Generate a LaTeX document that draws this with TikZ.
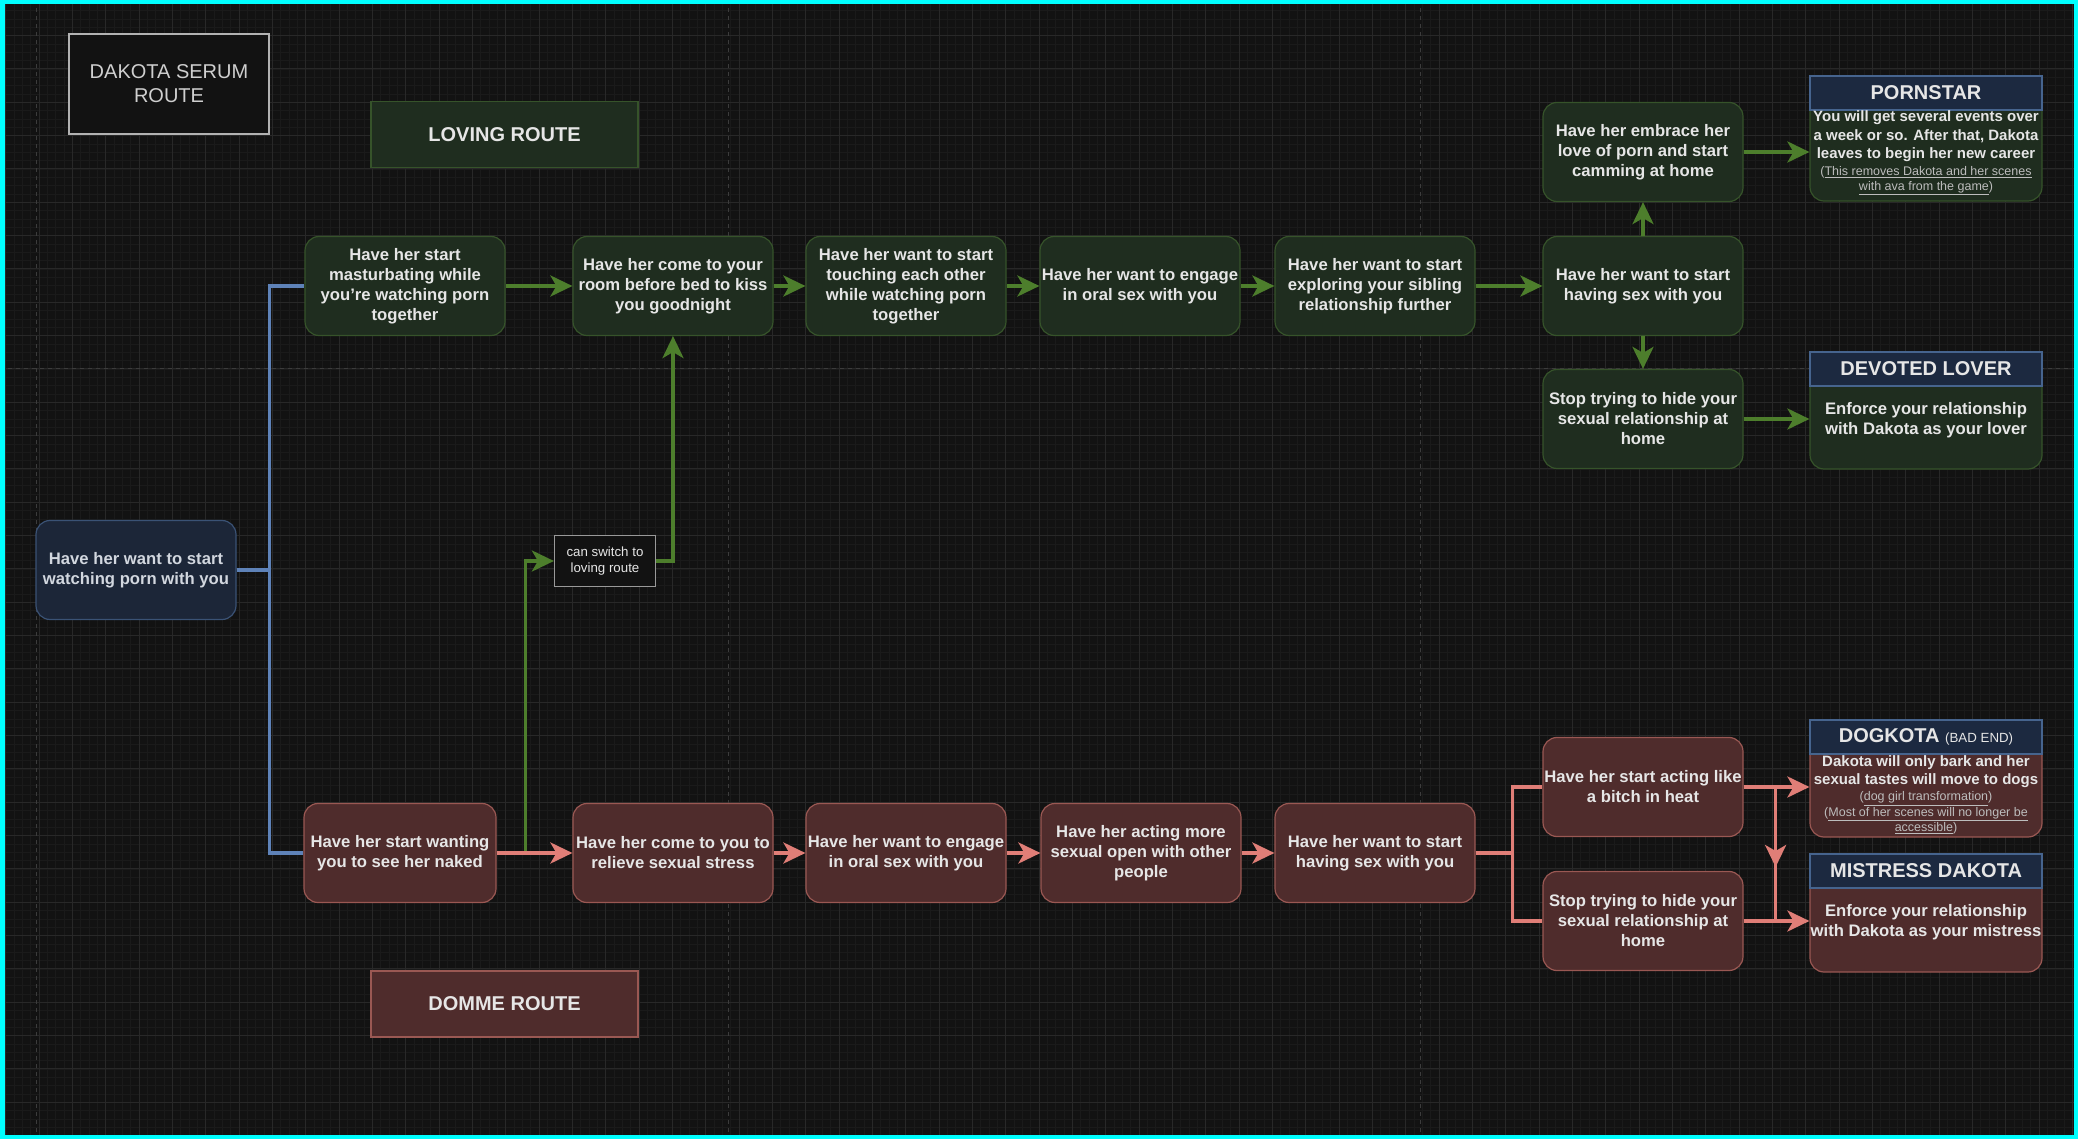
\documentclass[tikz,border=0pt]{standalone}
\usepackage{fontspec}
\setmainfont{Liberation Sans}
\usetikzlibrary{arrows.meta, calc}

\definecolor{bgcol}{HTML}{121212}
\definecolor{gridminor}{HTML}{1A1A1A}
\definecolor{gridmajor}{HTML}{282828}
\definecolor{pageline}{HTML}{3C3C3C}
\definecolor{framecyan}{HTML}{00FFFF}
\definecolor{lovefill}{HTML}{1F2D1F}
\definecolor{lovedraw}{HTML}{36532A}
\definecolor{lovegreen}{HTML}{4D7E2C}
\definecolor{dommefill}{HTML}{4F2C2C}
\definecolor{dommedraw}{HTML}{9A5853}
\definecolor{dommered}{HTML}{E07E77}
\definecolor{startfill}{HTML}{1C2638}
\definecolor{startdraw}{HTML}{3A5275}
\definecolor{startblue}{HTML}{5E82B8}
\definecolor{headfill}{HTML}{1C2940}
\definecolor{headdraw}{HTML}{46648E}
\definecolor{textcol}{HTML}{E6E6E6}
\definecolor{notecol}{HTML}{BDBDBD}

\newcommand{\boxfont}{\fontsize{16.67}{20}\selectfont\bfseries}
\newcommand{\bodyfont}{\fontsize{15}{18.5}\selectfont\bfseries}
\newcommand{\bigfont}{\fontsize{20}{24}\selectfont}
\newcommand{\notetext}[1]{{\fontsize{12.5}{15.5}\selectfont\mdseries\color{notecol}#1}}

\begin{document}
\begin{tikzpicture}[x=1pt, y=-1pt, line join=miter,
  box/.style={rounded corners=14pt, line width=1.2pt, minimum width=200pt,
    minimum height=99pt, align=center, font=\boxfont, text=textcol,
    inner xsep=0pt, inner ysep=2pt},
  lovebox/.style={box, draw=lovedraw, fill=lovefill},
  dommebox/.style={box, draw=dommedraw, fill=dommefill},
  startbox/.style={box, draw=startdraw, fill=startfill, text=textcol!85!startblue},
  endbody/.style={rounded corners=14pt, line width=1.2pt, minimum width=232pt},
  headbox/.style={draw=headdraw, fill=headfill, line width=1.2pt, minimum width=232pt,
    minimum height=34pt, font=\bigfont\bfseries, text=textcol},
  endtext/.style={align=center, text=textcol, inner sep=0pt},
  routebox/.style={line width=1.2pt, minimum width=267pt, minimum height=66pt,
    font=\bigfont\bfseries, text=textcol},
  loveline/.style={draw=lovegreen, line width=3.6pt},
  lovearrow/.style={loveline, -{Stealth[length=22pt, width=21pt, inset=6pt]}},
  dommeline/.style={draw=dommered, line width=3.6pt},
  dommearrow/.style={dommeline, -{Stealth[length=22pt, width=21pt, inset=6pt]}},
  startline/.style={draw=startblue, line width=3.6pt}]

  \useasboundingbox (0,0) rectangle (2078,1139);

  % canvas and grid
  \fill[bgcol] (0,0) rectangle (2078,1139);
  \foreach \i in {0,...,249}
    \draw[gridminor, line width=0.8pt] ({5.7+\i*8.333},0) -- ({5.7+\i*8.333},1139);
  \foreach \i in {0,...,136}
    \draw[gridminor, line width=0.8pt] (0,{2.3+\i*8.333}) -- (2078,{2.3+\i*8.333});
  \foreach \i in {0,...,62}
    \draw[gridmajor, line width=1pt] ({5.7+\i*33.333},0) -- ({5.7+\i*33.333},1139);
  \foreach \i in {0,...,34}
    \draw[gridmajor, line width=1pt] (0,{2.3+\i*33.333}) -- (2078,{2.3+\i*33.333});

  % page breaks
  \foreach \px in {36,728,1420}
    \draw[pageline, line width=1pt, dash pattern=on 4pt off 4pt] (\px,0) -- (\px,1139);
  \draw[pageline, line width=1pt, dash pattern=on 4pt off 4pt] (0,369) -- (2078,369);

  % labels
  \node[draw=black!30!white, fill=bgcol, line width=1.2pt, minimum width=200pt,
        minimum height=100pt, align=center, font=\bigfont, text=textcol!90!black]
    (title) at (169,84) {DAKOTA SERUM\\ROUTE};
  \node[routebox, draw=lovedraw, fill=lovefill] (loving) at (504.5,134.5) {LOVING ROUTE};
  \node[routebox, draw=dommedraw, fill=dommefill] (domme) at (504.5,1004) {DOMME ROUTE};

  % start
  \node[startbox] (start) at (136,570) {Have her want to start\\watching porn with you};

  % loving route
  \node[lovebox] (mast) at (405,286) {Have her start\\masturbating while\\you're watching porn\\together};
  \node[lovebox] (come) at (673,286) {Have her come to your\\room before bed to kiss\\you goodnight};
  \node[lovebox] (touch) at (906,286) {Have her want to start\\touching each other\\while watching porn\\together};
  \node[lovebox] (oral) at (1140,286) {Have her want to engage\\in oral sex with you};
  \node[lovebox] (explore) at (1375,286) {Have her want to start\\exploring your sibling\\relationship further};
  \node[lovebox] (lsex) at (1643,286) {Have her want to start\\having sex with you};
  \node[lovebox] (embrace) at (1643,152) {Have her embrace her\\love of porn and start\\camming at home};
  \node[lovebox] (lstop) at (1643,419) {Stop trying to hide your\\sexual relationship at\\home};

  % loving endings
  \node[endbody, draw=lovedraw, fill=lovefill, minimum height=108pt] (porn) at (1926,147) {};
  \node[headbox] (pornhead) at (1926,93) {PORNSTAR};
  \node[endtext, font=\bodyfont] (porntext) at (1926,153) {You will get several events over\\
    a week or so. After that, Dakota\\leaves to begin her new career\\[-1.5pt]
    \notetext{(\underline{This removes Dakota and her scenes}}\\[-3.5pt]
    \notetext{\underline{with ava from the game})}};
  \node[endbody, draw=lovedraw, fill=lovefill, minimum height=100pt] (devoted) at (1926,419) {};
  \node[headbox] (devotedhead) at (1926,369) {DEVOTED LOVER};
  \node[endtext, font=\boxfont] (devotedtext) at (1926,420) {Enforce your relationship\\with Dakota as your lover};

  % domme route
  \node[dommebox, minimum width=192pt] (wanting) at (400,853) {Have her start wanting\\you to see her naked};
  \node[dommebox] (dcome) at (673,853) {Have her come to you to\\relieve sexual stress};
  \node[dommebox] (doral) at (906,853) {Have her want to engage\\in oral sex with you};
  \node[dommebox] (acting) at (1141,853) {Have her acting more\\sexual open with other\\people};
  \node[dommebox] (dsex) at (1375,853) {Have her want to start\\having sex with you};
  \node[dommebox] (bitch) at (1643,787) {Have her start acting like\\a bitch in heat};
  \node[dommebox] (dstop) at (1643,921) {Stop trying to hide your\\sexual relationship at\\home};

  % domme endings
  \node[endbody, draw=dommedraw, fill=dommefill, minimum height=100pt] (dog) at (1926,787) {};
  \node[headbox] (doghead) at (1926,737) {DOGKOTA {\fontsize{13.3}{16}\selectfont\mdseries (BAD END)}};
  \node[endtext, font=\bodyfont] (dogtext) at (1926,795) {Dakota will only bark and her\\
    sexual tastes will move to dogs\\[-2.5pt]
    \notetext{(\underline{dog girl transformation})}\\[-3pt]
    \notetext{(\underline{Most of her scenes will no longer be}}\\[-3pt]
    \notetext{\underline{accessible})}};
  \node[endbody, draw=dommedraw, fill=dommefill, minimum height=101pt] (mistress) at (1926,921.5) {};
  \node[headbox] (mistresshead) at (1926,871) {MISTRESS DAKOTA};
  \node[endtext, font=\boxfont] (mistresstext) at (1926,922) {Enforce your relationship\\with Dakota as your mistress};

  % switch note
  \node[draw=black!40!white, fill=bgcol, line width=1.2pt, minimum width=101pt,
        minimum height=51pt, align=center, text=textcol, inner sep=0pt,
        font=\fontsize{13.3}{16}\selectfont] (switch) at (605,561) {can switch to\\loving route};

  % start split
  \draw[startline] (start.east) -- ++(33,0) |- (mast.west);
  \draw[startline] (start.east) -- ++(33,0) |- (wanting.west);

  % loving arrows
  \draw[lovearrow] (mast) -- (come);
  \draw[lovearrow] (come) -- (touch);
  \draw[lovearrow] (touch) -- (oral);
  \draw[lovearrow] (oral) -- (explore);
  \draw[lovearrow] (explore) -- (lsex);
  \draw[lovearrow] (lsex) -- (embrace);
  \draw[lovearrow] (lsex) -- (lstop);
  \draw[lovearrow] (embrace.east) -- (embrace.east -| porn.west);
  \draw[lovearrow] (lstop.east) -- (lstop.east -| devoted.west);

  % switching over
  \draw[lovearrow] (wanting.east) ++(29,0) |- (switch.west);
  \draw[lovearrow] (switch.east) -| (come.south);

  % domme arrows
  \draw[dommearrow] (wanting) -- (dcome);
  \draw[dommearrow] (dcome) -- (doral);
  \draw[dommearrow] (doral) -- (acting);
  \draw[dommearrow] (acting) -- (dsex);
  \draw[dommeline] (dsex.east) -- ++(37,0) |- (bitch.west);
  \draw[dommeline] (dsex.east) -- ++(37,0) |- (dstop.west);
  \draw[dommearrow] (bitch.east) -- (bitch.east -| dog.west);
  \draw[dommearrow] (dstop.east) -- (dstop.east -| mistress.west);
  \draw[dommeline] ($(bitch.east)+(32,0)$) -- ($(dstop.east)+(32,0)$);
  \draw[dommearrow] ($(bitch.east)+(32,0)$) -- ++(0,80);

  % frame
  \draw[framecyan, line width=9pt] (0,0) rectangle (2078,1139);

\end{tikzpicture}
\end{document}
